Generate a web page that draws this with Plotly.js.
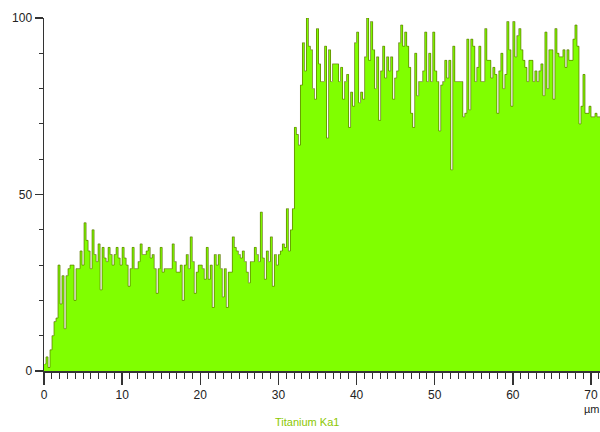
<!DOCTYPE html>
<html>
<head>
<meta charset="utf-8">
<script src="https://cdn.plot.ly/plotly-3.0.1.min.js"></script>
<style>
  html, body { margin: 0; padding: 0; background: #ffffff; }
  #chart { width: 600px; height: 432px; }
</style>
</head>
<body>
<div id="chart"></div>
<script>
// Line-scan counts for Titanium Ka1, one value per bin along the scan (µm)
const binWidth = 0.2564;   // µm per bin
const binStart = 0;        // µm
const counts = [
  2, 4, 1, 6, 10, 14, 15, 30, 19, 27,
  12, 27, 29, 30, 30, 20, 29, 29, 34, 30,
  42, 37, 34, 29, 40, 33, 31, 36, 23, 35,
  32, 31, 35, 33, 30, 33, 35, 32, 30, 35,
  32, 30, 24, 29, 35, 29, 29, 31, 36, 33,
  33, 34, 35, 32, 33, 29, 22, 29, 35, 28,
  29, 29, 29, 29, 36, 31, 28, 28, 30, 20,
  30, 33, 29, 38, 31, 22, 28, 30, 30, 29,
  26, 35, 26, 30, 18, 33, 30, 33, 29, 21,
  29, 18, 28, 28, 38, 35, 34, 33, 32, 34,
  31, 28, 25, 31, 31, 35, 33, 31, 45, 32,
  26, 34, 31, 38, 24, 33, 30, 33, 34, 36,
  35, 46, 34, 40, 46, 69, 67, 64, 81, 93,
  85, 100, 92, 91, 80, 77, 97, 87, 82, 82,
  92, 66, 91, 82, 87, 87, 87, 82, 86, 77,
  82, 84, 69, 79, 75, 93, 96, 76, 79, 77,
  89, 100, 88, 99, 91, 80, 89, 71, 85, 92,
  83, 89, 85, 89, 77, 83, 85, 93, 98, 92,
  96, 92, 86, 73, 69, 90, 78, 82, 82, 85,
  96, 82, 90, 82, 96, 85, 82, 68, 81, 82,
  88, 83, 88, 57, 92, 82, 82, 82, 82, 72,
  73, 94, 74, 94, 92, 82, 86, 92, 82, 82,
  97, 88, 88, 83, 86, 84, 73, 85, 90, 80,
  84, 99, 91, 75, 99, 89, 95, 97, 91, 88,
  86, 82, 88, 88, 82, 85, 82, 85, 87, 78,
  96, 80, 91, 91, 77, 97, 90, 89, 89, 91,
  86, 91, 88, 88, 94, 98, 92, 70, 75, 84,
  73, 73, 75, 72, 72, 73, 72, 72
];
const xRange = [0, 71.15];
const yRange = [0, 100];
const yTickVals = [0, 50, 100];
const xTickVals = [0, 10, 20, 30, 40, 50, 60, 70];
const titleText = "Titanium Ka1";
const unitText = "µm";

const positions = counts.map((_, i) => binStart + (i + 0.5) * binWidth);

const bars = {
  type: 'bar',
  x: positions,
  y: counts,
  width: binWidth,
  marker: { color: '#80ff00', line: { width: 0 } },
  hoverinfo: 'x+y'
};

const outline = {
  type: 'scatter',
  mode: 'lines',
  x: positions,
  y: counts,
  line: { shape: 'hvh', color: 'rgba(95,125,0,0.75)', width: 1 },
  hoverinfo: 'skip'
};

const font = { family: 'Arial, "Liberation Sans", sans-serif', size: 12, color: '#222222' };

const layout = {
  width: 600,
  height: 432,
  margin: { l: 44, r: 0, t: 18, b: 61 },
  paper_bgcolor: '#ffffff',
  plot_bgcolor: '#ffffff',
  showlegend: false,
  bargap: 0,
  font: font,
  xaxis: {
    range: xRange,
    tickmode: 'array',
    tickvals: xTickVals,
    ticks: 'outside',
    ticklen: 12,
    tickwidth: 1.3,
    tickcolor: '#333333',
    showline: true,
    linecolor: '#333333',
    linewidth: 1.5,
    showgrid: false,
    zeroline: false,
    tickfont: font,
    minor: { dtick: 1, ticks: 'outside', ticklen: 6, tickwidth: 1, tickcolor: '#333333', showgrid: false }
  },
  yaxis: {
    range: yRange,
    tickmode: 'array',
    tickvals: yTickVals,
    ticks: 'outside',
    ticklen: 8,
    tickwidth: 1.3,
    tickcolor: '#333333',
    showline: true,
    linecolor: '#333333',
    linewidth: 1.5,
    showgrid: false,
    zeroline: false,
    tickfont: font,
    minor: { dtick: 10, ticks: 'outside', ticklen: 4, tickwidth: 1, tickcolor: '#333333', showgrid: false }
  },
  annotations: [
    {
      text: titleText, xref: 'paper', yref: 'paper', x: 0.473, y: -0.145,
      xanchor: 'center', yanchor: 'middle', showarrow: false,
      font: { family: 'Arial, "Liberation Sans", sans-serif', size: 11, color: '#8cc800' }
    },
    {
      text: unitText, xref: 'paper', yref: 'paper', x: 0.985, y: -0.108,
      xanchor: 'center', yanchor: 'middle', showarrow: false,
      font: { family: 'Arial, "Liberation Sans", sans-serif', size: 11, color: '#222222' }
    }
  ]
};

Plotly.newPlot('chart', [bars, outline], layout, { displayModeBar: false, staticPlot: true });
</script>
</body>
</html>
